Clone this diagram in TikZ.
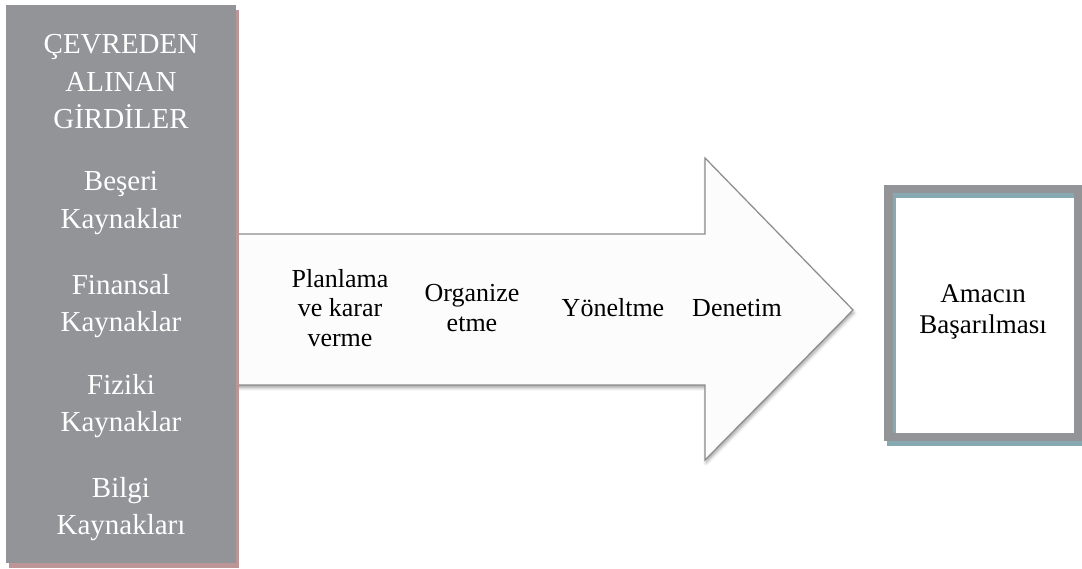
\documentclass[tikz,border=0pt]{standalone}
\usepackage{fontspec}
\setmainfont{Liberation Serif}
\usetikzlibrary{shadows.blur}
\definecolor{boxgray}{RGB}{147,148,152}
\definecolor{rosy}{RGB}{188,150,150}
\definecolor{tealish}{RGB}{135,169,177}
\definecolor{rimgray}{RGB}{140,140,140}

\begin{document}
\begin{tikzpicture}[x=1pt,y=1pt,every node/.style={align=center,inner sep=0pt},
	inp/.style={text=white,font=\fontsize{29}{37.5}\selectfont},
	stage/.style={font=\fontsize{26}{29.5}\selectfont},
	goaltxt/.style={font=\fontsize{27}{31}\selectfont}]
	\useasboundingbox(0,0)rectangle(1082,569);
	\draw[rimgray,fill=gray!2,line width=1.2,line join=miter,
	blur shadow={shadow xshift=1pt,shadow yshift=-3pt,shadow blur radius=3pt,shadow opacity=35}]
	(230,335)--(705,335)--(705,411)--(853,259)--(705,109)--(705,184)--(230,184)--cycle;
	\fill[rosy](9,1)rectangle(239,559);
	\fill[boxgray](6,6)rectangle(236,564);
	\draw[tealish,line width=8.5](891.5,127)rectangle(1081,375);
	\draw[boxgray,line width=8.5](888.5,132)rectangle(1078,380);
	\node[inp](head)at(121,487){ÇEVREDEN\\ALINAN\\GİRDİLER};
	\foreach \y/\t[count=\i] in{366/{Beşeri\\Kaynaklar},263/{Finansal\\Kaynaklar},
		163/{Fiziki\\Kaynaklar},60/{Bilgi\\Kaynakları}}
	\node[inp](k\i)at(121,\y){\t};
	\node[stage](s1)at(340,261){Planlama\\ve karar\\verme};
	\node[stage](s2)at(472,261){Organize\\etme};
	\node[stage](s3)at(613,261){Yöneltme};
	\node[stage](s4)at(737,261){Denetim};
	\node[goaltxt](goal)at(983,257){Amacın\\Başarılması};
\end{tikzpicture}
\end{document}
